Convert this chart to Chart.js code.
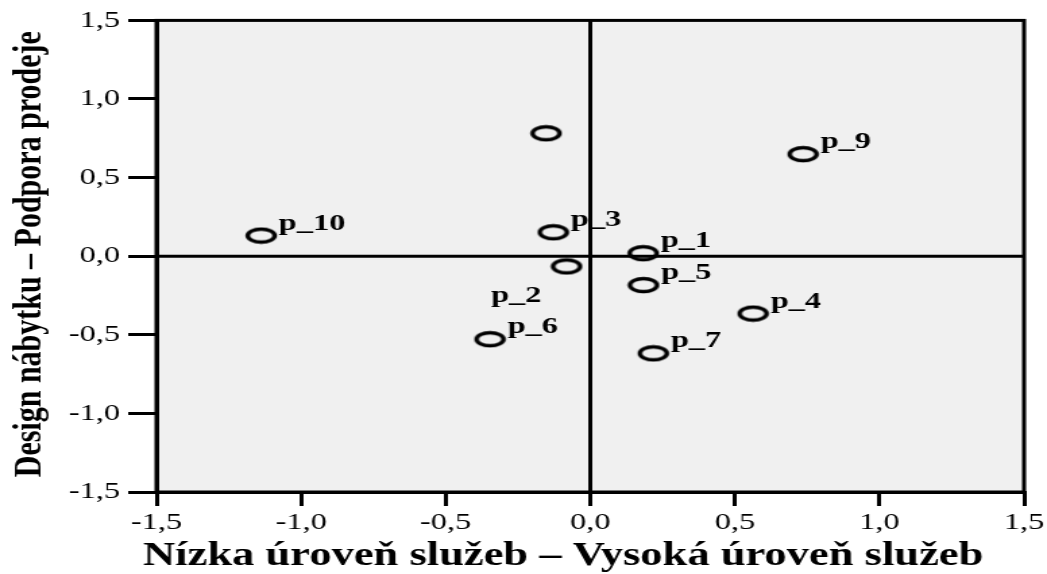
<!DOCTYPE html>
<html>
<head>
<meta charset="utf-8">
<script src="https://cdn.jsdelivr.net/npm/chart.js@4"></script>
<style>
  html, body { margin: 0; padding: 0; background: #fff; overflow: hidden; }
  #chart { display: block; }
  .warm { position: absolute; left: -999px; top: 0; font-family: "Liberation Serif"; }
</style>
</head>
<body>
<span class="warm">p_1 1,5</span><span class="warm" style="font-weight:bold">p_1 1,5</span>
<!-- the reference picture is stretched sideways, so the canvas is drawn narrow and widened by CSS -->
<canvas id="chart" width="776" height="574" style="width:1047px;height:574px"></canvas>
<script>
const pointLabels = ['p_1', 'p_2', 'p_3', 'p_4', 'p_5', 'p_6', 'p_7', '', 'p_9', 'p_10'];
const serviceLevel = [0.183, -0.082, -0.128, 0.563, 0.184, -0.347, 0.218, -0.153, 0.736, -1.138];
const designSupport = [0.019, -0.065, 0.152, -0.365, -0.184, -0.528, -0.618, 0.782, 0.649, 0.131];
const tickValues = [-1.5, -1.0, -0.5, 0.0, 0.5, 1.0, 1.5];
const xTitle = 'Nízka úroveň služeb – Vysoká úroveň služeb';
const yTitle = 'Design nábytku – Podpora prodeje';

const SERIF = '"Liberation Serif", "Times New Roman", Times, serif';

function fmt(value) {
    return Number(value).toFixed(1).replace('.', ',');
}

function makeMarker() {
    const c = document.createElement('canvas');
    c.width = 25;
    c.height = 18;
    const g = c.getContext('2d');
    g.lineWidth = 3.4;
    g.strokeStyle = '#000';
    g.beginPath();
    g.ellipse(12.5, 9, 10, 6.5, 0, 0, Math.PI * 2);
    g.stroke();
    return c;
}

// grey plot area, frame and the two zero lines
const plotBox = {
    id: 'plotBox',
    beforeDraw(chart) {
        const a = chart.chartArea;
        const ctx = chart.ctx;
        ctx.save();
        ctx.fillStyle = '#f0f0f0';
        ctx.fillRect(a.left, a.top, a.right - a.left, a.bottom - a.top);
        ctx.restore();
    },
    beforeDatasetsDraw(chart) {
        const a = chart.chartArea;
        const ctx = chart.ctx;
        const x0 = chart.scales.x.getPixelForValue(0);
        const y0 = chart.scales.y.getPixelForValue(0);
        ctx.save();
        ctx.strokeStyle = '#000';
        ctx.lineWidth = 3;
        ctx.strokeRect(a.left, a.top, a.right - a.left, a.bottom - a.top);
        ctx.beginPath();
        ctx.moveTo(a.left, y0);
        ctx.lineTo(a.right, y0);
        ctx.moveTo(x0, a.top);
        ctx.lineTo(x0, a.bottom);
        ctx.stroke();
        ctx.restore();
    }
};

// p_2 label sits below-left of its point in the reference
const labelShift = { 'p_2': [-56, 36] };

const pointNames = {
    id: 'pointNames',
    afterDatasetsDraw(chart) {
        const ctx = chart.ctx;
        const meta = chart.getDatasetMeta(0);
        ctx.save();
        ctx.fillStyle = '#000';
        ctx.font = 'bold 24px ' + SERIF;
        ctx.textAlign = 'left';
        ctx.textBaseline = 'alphabetic';
        meta.data.forEach((pt, i) => {
            const name = pointLabels[i];
            if (!name) return;
            const shift = labelShift[name] || [13, -6];
            ctx.fillText(name, pt.x + shift[0], pt.y + shift[1]);
        });
        ctx.restore();
    }
};

const axisTitles = {
    id: 'axisTitles',
    afterDraw(chart) {
        const ctx = chart.ctx;
        const a = chart.chartArea;
        ctx.save();
        ctx.fillStyle = '#000';
        ctx.textBaseline = 'alphabetic';

        ctx.font = 'bold 33px ' + SERIF;
        ctx.textAlign = 'left';
        ctx.fillText(xTitle, a.left - 10, 565);

        ctx.font = 'bold 30px ' + SERIF;
        ctx.translate(29.6, (a.top + a.bottom) / 2 - 2);
        ctx.rotate(-Math.PI / 2);
        ctx.textAlign = 'center';
        ctx.fillText(yTitle, 0, 0);
        ctx.restore();
    }
};

const points = serviceLevel.map((x, i) => ({ x: x, y: designSupport[i] }));

function drawChart() {
    new Chart(document.getElementById('chart'), {
        type: 'scatter',
        data: {
            datasets: [{
                data: points,
                pointStyle: makeMarker(),
                pointRadius: 5,
                pointHoverRadius: 5
            }]
        },
        options: {
            responsive: false,
            animation: false,
            devicePixelRatio: 1,
            layout: { padding: { top: 18, right: 16, left: 0, bottom: 0 } },
            plugins: {
                legend: { display: false },
                tooltip: { enabled: false }
            },
            scales: {
                x: {
                    type: 'linear',
                    min: -1.5,
                    max: 1.5,
                    afterBuildTicks: s => { s.ticks = tickValues.map(v => ({ value: v })); },
                    afterFit: s => { s.height = 82; },
                    grid: { drawOnChartArea: false, drawTicks: true, tickLength: 14, color: '#000', lineWidth: 3 },
                    border: { display: true, color: '#000', width: 3 },
                    ticks: {
                        color: '#000',
                        font: { family: SERIF, size: 24 },
                        padding: 2,
                        maxRotation: 0,
                        autoSkip: false,
                        callback: fmt
                    }
                },
                y: {
                    type: 'linear',
                    min: -1.5,
                    max: 1.5,
                    afterBuildTicks: s => { s.ticks = tickValues.map(v => ({ value: v })); },
                    afterFit: s => { s.width = 116; },
                    grid: { drawOnChartArea: false, drawTicks: true, tickLength: 21, color: '#000', lineWidth: 3 },
                    border: { display: true, color: '#000', width: 3 },
                    ticks: {
                        color: '#000',
                        font: { family: SERIF, size: 24 },
                        padding: 6,
                        autoSkip: false,
                        callback: fmt
                    }
                }
            }
        },
        plugins: [plotBox, pointNames, axisTitles]
    });
}

Promise.all([
    document.fonts.load('24px "Liberation Serif"'),
    document.fonts.load('bold 24px "Liberation Serif"')
]).then(drawChart, drawChart);
</script>
</body>
</html>
